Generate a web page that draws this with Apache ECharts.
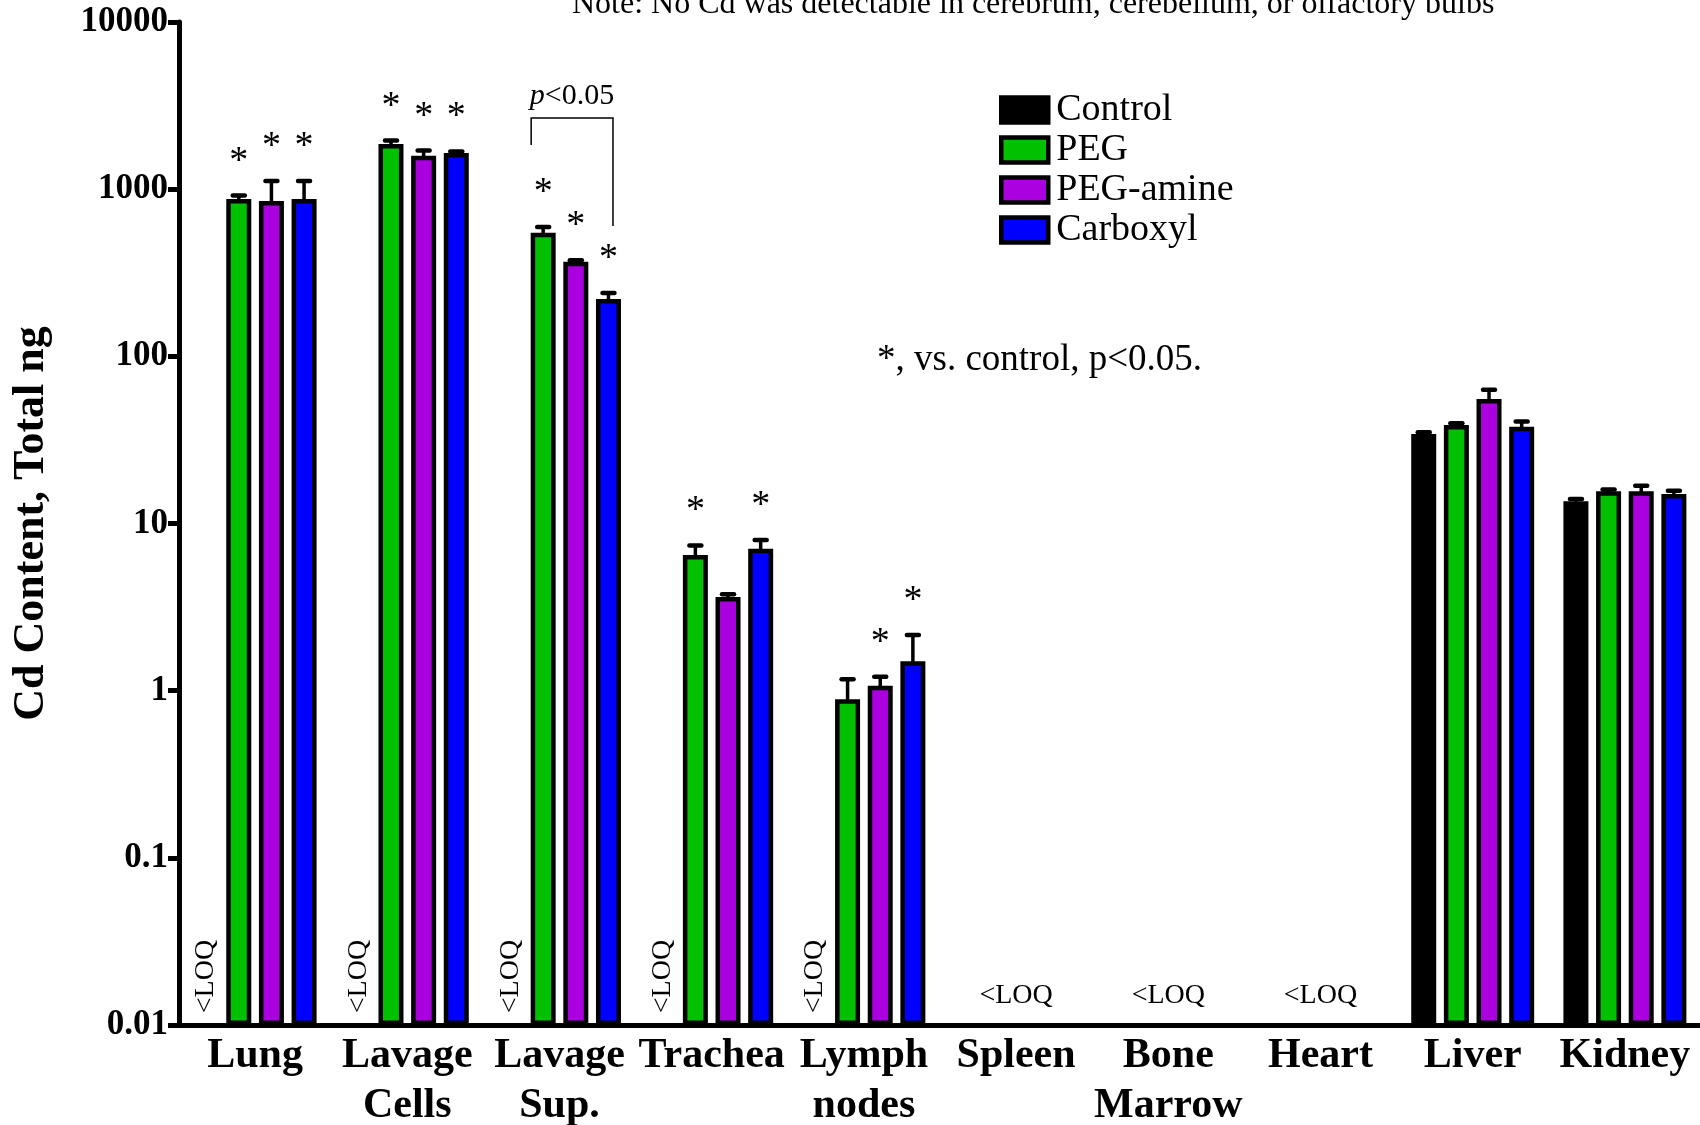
<!DOCTYPE html>
<html><head><meta charset="utf-8">
<script src="https://cdn.jsdelivr.net/npm/echarts@6/dist/echarts.min.js"></script>
<style>html,body{margin:0;padding:0;background:#fff}#c{width:1700px;height:1125px}</style>
</head><body><div id="c"></div>
<script>
// ---------- data ----------
const categories = ['Lung','Lavage\nCells','Lavage\nSup.','Trachea','Lymph\nnodes','Spleen','Bone\nMarrow','Heart','Liver','Kidney'];
const seriesNames = ['Control','PEG','PEG-amine','Carboxyl'];
// mean Cd content (total ng); null = <LOQ
const control  = [null, null, null, null, null, null, null, null, 34.3, 13.6];
const peg      = [873, 1862, 549, 6.48, 0.89, null, null, null, 38.8, 15.6];
const pegAmine = [849, 1587, 368, 3.63, 1.07, null, null, null, 55.5, 15.6];
const carboxyl = [873, 1644, 220, 7.06, 1.50, null, null, null, 37.9, 15.0];
// upper end of error bars
const controlUpper  = [null, null, null, null, null, null, null, null, 35.2, 14.0];
const pegUpper      = [915, 1954, 594, 7.39, 1.17, null, null, null, 39.8, 16.0];
const pegAmineUpper = [1119, 1702, 376, 3.78, 1.21, null, null, null, 63.1, 16.8];
const carboxylUpper = [1119, 1680, 239, 7.96, 2.15, null, null, null, 40.8, 15.7];
// significance vs control (1 = *)
const controlSig  = [0,0,0,0,0,0,0,0,0,0];
const pegSig      = [1,1,1,1,0,0,0,0,0,0];
const pegAmineSig = [1,1,1,0,1,0,0,0,0,0];
const carboxylSig = [1,1,1,1,1,0,0,0,0,0];
const yTickLabels = ['0.01','0.1','1','10','100','1000','10000'];
const LOQ = 0.01;
// bracket: [category, fromSeries, toSeries, topValue, leftEndValue, rightEndValue]
const bracketData = [[2, 1, 3, 2665, 1837, 602]];
const bracketText = 'p<0.05';
const noteText = 'Note: No Cd was detectable in cerebrum, cerebellum, or olfactory bulbs';
const sigNoteText = '*, vs. control, p<0.05.';
const colors = ['#000000', '#00c000', '#aa00e0', '#0000ff'];

// ---------- layout constants ----------
const FONT = "'Liberation Serif','Times New Roman',serif";
const BAR_W = 25;
const BAR_STEP = 32.65;

const values = [control, peg, pegAmine, carboxyl];
const uppers = [controlUpper, pegUpper, pegAmineUpper, carboxylUpper];
const sigs = [controlSig, pegSig, pegAmineSig, carboxylSig];

const errData = [];
values.forEach((arr, s) => arr.forEach((v, i) => {
  if (v != null) errData.push([i, s, v, uppers[s][i], sigs[s][i]]);
}));
const loqData = [];
categories.forEach((c, i) => {
  const nulls = values.map(a => a[i] == null);
  if (nulls.every(Boolean)) loqData.push([i, -1, LOQ]);
  else nulls.forEach((n, s) => { if (n) loqData.push([i, s, LOQ]); });
});

const chart = echarts.init(document.getElementById('c'), null, {renderer: 'canvas'});
const barSeries = seriesNames.map((name, s) => ({
  name, type: 'bar', data: values[s], barWidth: BAR_W, barGap: ((BAR_STEP - BAR_W) / BAR_W * 100).toFixed(1) + '%',
  itemStyle: {color: colors[s], borderColor: '#000', borderWidth: 4.5},
  z: 2
}));

chart.setOption({
  animation: false,
  backgroundColor: '#fff',
  textStyle: {fontFamily: FONT},
  grid: {left: 179, top: 22, width: 1522, bottom: 100, containLabel: false, outerBoundsMode: 'none'},
  legend: {
    data: seriesNames, orient: 'vertical', left: 999, top: 91, padding: 0,
    itemWidth: 47, itemHeight: 25, itemGap: 2, icon: 'rect', selectedMode: false,
    itemStyle: {borderColor: '#000', borderWidth: 4.5},
    textStyle: {fontSize: 38, fontFamily: FONT, color: '#000', padding: [0, 0, 0, 3]}
  },
  xAxis: {
    type: 'category', data: categories,
    axisLine: {show: true, lineStyle: {color: '#000', width: 5}},
    axisTick: {show: false},
    axisLabel: {interval: 0, color: '#000', fontSize: 42, fontWeight: 'bold', fontFamily: FONT, lineHeight: 50, margin: 6},
    splitLine: {show: false}
  },
  yAxis: {
    type: 'log', logBase: 10, min: 0.01, max: 10000, startValue: 0.01,
    name: 'Cd Content, Total ng', nameLocation: 'middle', nameGap: 125,
    nameTextStyle: {fontSize: 44, fontWeight: 'bold', fontFamily: FONT, color: '#000'},
    axisLine: {show: true, lineStyle: {color: '#000', width: 5}},
    axisTick: {show: true, length: 11, lineStyle: {color: '#000', width: 5}},
    axisLabel: {
      color: '#000', fontSize: 35, fontWeight: 'bold', fontFamily: FONT, margin: 11,
      formatter: v => yTickLabels[Math.round(Math.log10(v)) + 2]
    },
    splitLine: {show: false}
  },
  graphic: [
    {type: 'text', x: 572, y: 4.5, style: {text: noteText, fontSize: 32, fontFamily: FONT, fill: '#000', align: 'left', verticalAlign: 'middle'}},
    {type: 'text', x: 877, y: 360.5, style: {text: sigNoteText, fontSize: 37, fontFamily: FONT, fill: '#000', align: 'left', verticalAlign: 'middle'}}
  ],
  series: barSeries.concat([
    {
      type: 'custom', name: 'err', data: errData, encode: {x: 0, y: [2, 3]}, z: 3, silent: true,
      renderItem(params, api) {
        const cat = api.value(0), s = api.value(1);
        const p0 = api.coord([cat, api.value(2)]);
        const p1 = api.coord([cat, api.value(3)]);
        const x = p0[0] + (s - 1.5) * BAR_STEP;
        const children = [
          {type: 'line', shape: {x1: x, y1: p0[1] + 2, x2: x, y2: p1[1]}, style: {stroke: '#000', lineWidth: 3.5}},
          {type: 'line', shape: {x1: x - 6, y1: p1[1], x2: x + 6, y2: p1[1]}, style: {stroke: '#000', lineWidth: 4.5, lineCap: 'round'}}
        ];
        if (api.value(4)) children.push({type: 'text', style: {text: '*', x: x, y: p1[1] - 34, align: 'center', verticalAlign: 'middle', fontSize: 38, fontFamily: FONT, fill: '#000'}});
        return {type: 'group', children};
      }
    },
    {
      type: 'custom', name: 'loq', data: loqData, encode: {x: 0, y: 2}, z: 3, silent: true,
      renderItem(params, api) {
        const cat = api.value(0), s = api.value(1);
        const base = api.coord([cat, api.value(2)]);
        if (s < 0) {
          return {type: 'text', style: {text: '<LOQ', x: base[0], y: base[1] - 29.5, align: 'center', verticalAlign: 'middle', fontSize: 28, fontFamily: FONT, fill: '#000'}};
        }
        return {type: 'text', x: base[0] + (s - 1.5) * BAR_STEP, y: base[1] - 48.5, rotation: Math.PI / 2,
          style: {text: '<LOQ', x: 0, y: 0, align: 'center', verticalAlign: 'middle', fontSize: 28, fontFamily: FONT, fill: '#000'}};
      }
    },
    {
      type: 'custom', name: 'bracket', data: bracketData, encode: {x: 0, y: [3, 4, 5]}, z: 3, silent: true,
      renderItem(params, api) {
        const cat = api.value(0);
        const cx = api.coord([cat, 1])[0];
        const xl = cx + (api.value(1) - 1.5) * BAR_STEP - BAR_W / 2 + 0.5;
        const xr = cx + (api.value(2) - 1.5) * BAR_STEP + 4.5;
        const yt = api.coord([cat, api.value(3)])[1];
        const yl = api.coord([cat, api.value(4)])[1];
        const yr = api.coord([cat, api.value(5)])[1];
        return {type: 'group', children: [
          {type: 'polyline', shape: {points: [[xl, yl], [xl, yt], [xr, yt], [xr, yr]]}, style: {stroke: '#000', lineWidth: 1.5, fill: null}},
          {type: 'text', style: {
            text: '{i|p}{n|' + bracketText.slice(1) + '}', x: (xl + xr) / 2, y: yt - 22, align: 'center', verticalAlign: 'middle',
            rich: {i: {fontSize: 30, fontStyle: 'italic', fontFamily: FONT, fill: '#000'}, n: {fontSize: 30, fontFamily: FONT, fill: '#000'}}
          }}
        ]};
      }
    }
  ])
});
</script></body></html>
